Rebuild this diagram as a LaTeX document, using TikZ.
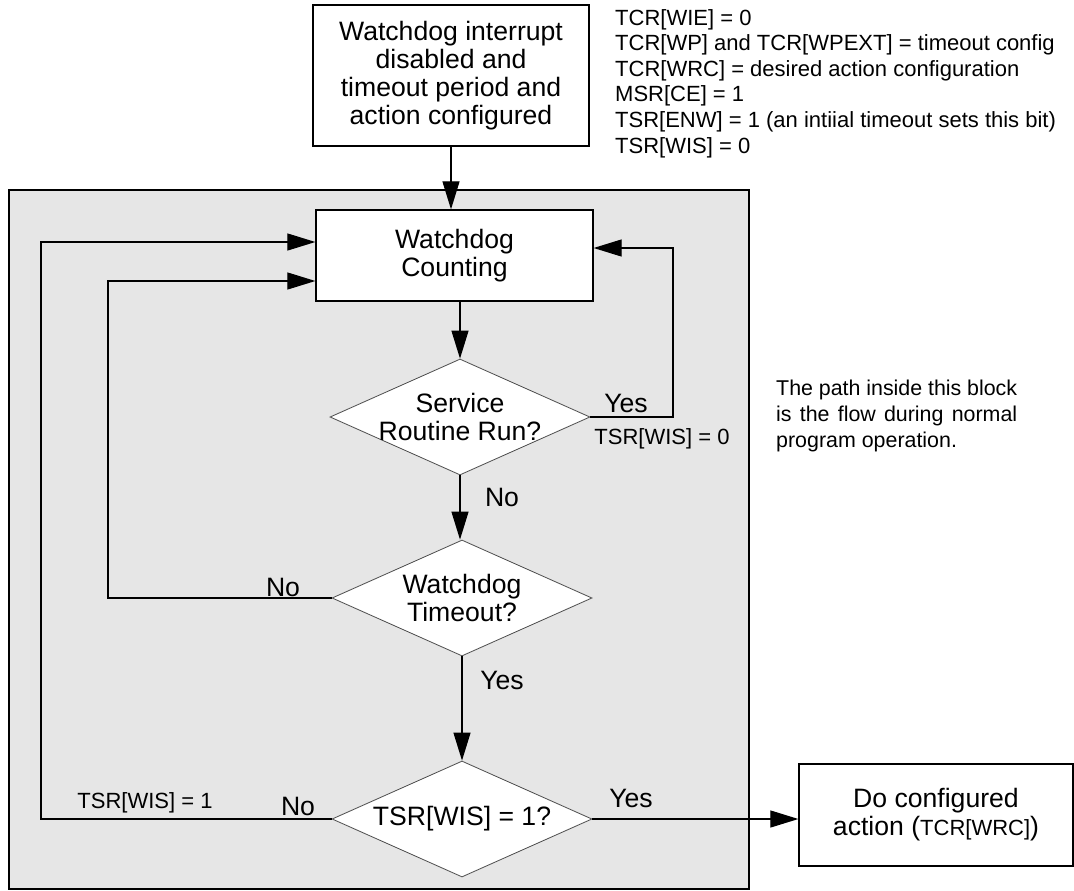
\documentclass[tikz,border=0pt]{standalone}
\usepackage{fontspec}
\setmainfont{Liberation Sans}
\usetikzlibrary{arrows.meta,shapes.geometric}
\definecolor{blockgray}{HTML}{E6E6E6}
\newcommand\mainsz{\fontsize{26.6}{27.8}\selectfont}
\newcommand\smallsz{\fontsize{22}{25.6}\selectfont}
\begin{document}
\begin{tikzpicture}[x=1pt,y=-1pt,
  boxstyle/.style={draw=black, line width=1.3pt, fill=white, align=center, font=\mainsz, inner sep=0pt},
  dia/.style={draw=black!70, line width=0.8pt, fill=white, shape=diamond, minimum width=260pt, minimum height=116pt, inner sep=0pt},
  conn/.style={line width=1.2pt},
  arr/.style={conn, -{Triangle[length=28pt,width=17pt]}},
  lbl/.style={font=\mainsz, inner sep=0pt},
  small/.style={font=\smallsz, inner sep=0pt}]
\useasboundingbox (0,0) rectangle (1074,891);
% grey block
\draw[line width=1.3pt, fill=blockgray] (9,190) rectangle (749,889);
% boxes
\node[boxstyle, minimum width=276pt, minimum height=141pt] (top) at (451,75.5)
  {Watchdog interrupt\\disabled and\\timeout period and\\action configured};
\node[boxstyle, minimum width=277pt, minimum height=91pt] (count) at (454.5,255.5)
  {Watchdog\\Counting};
\node[dia, label={[align=center,font=\mainsz]center:{Service\\Routine Run?}}] (d1) at (460,417) {};
\node[dia, label={[align=center,font=\mainsz]center:{Watchdog\\Timeout?}}] (d2) at (462,598) {};
\node[dia, label={[align=center,font=\mainsz]center:{TSR[WIS] = 1?}}] (d3) at (462,819) {};
\node[boxstyle, minimum width=274pt, minimum height=102pt] (act) at (936,815)
  {Do configured\\action ({\fontsize{22}{27.8}\selectfont TCR[WRC]})};
% annotations
\node[small, anchor=north west, align=left] (cfg) at (615,9)
  {TCR[WIE] = 0\\TCR[WP] and TCR[WPEXT] = timeout config\\TCR[WRC] = desired action configuration\\MSR[CE] = 1\\TSR[ENW] = 1 (an intiial timeout sets this bit)\\TSR[WIS] = 0};
\node[small, anchor=north west, align=left, font=\fontsize{21.4}{26}\selectfont] (note) at (776,380)
  {\makebox[241pt][s]{The path inside this block}\\\makebox[241pt][s]{is the flow during normal}\\program operation.};
% labels
\node[lbl] (y1) at (626,403) {Yes};
\node[small] (w0) at (662,439) {TSR[WIS] = 0};
\node[lbl] (n1) at (502,497) {No};
\node[lbl] (n2) at (283,587) {No};
\node[lbl] (y2) at (502,680) {Yes};
\node[small] (w1) at (145,803) {TSR[WIS] = 1};
\node[lbl] (n3) at (298,806) {No};
\node[lbl] (y3) at (631,798) {Yes};
% loop corner coordinates
\coordinate (rloop) at (673,248);
\coordinate (iloop) at (108,281);
\coordinate (oloop) at (41,242);
% connectors
\draw[arr] (top.south) -- (top.south |- count.north);
\draw[arr] (d1.north |- count.south) -- (d1.north);
\draw[arr] (d1.east) -| (rloop) -- (count.east |- rloop);
\draw[arr] (d1.south) -- (d1.south |- d2.north);
\draw[arr] (d2.west) -| (iloop) -- (count.west |- iloop);
\draw[arr] (d2.south) -- (d3.north);
\draw[arr] (d3.west) -| (oloop) -- (count.west |- oloop);
\draw[arr] (d3.east) -- (act.west |- d3.east);
\end{tikzpicture}
\end{document}
